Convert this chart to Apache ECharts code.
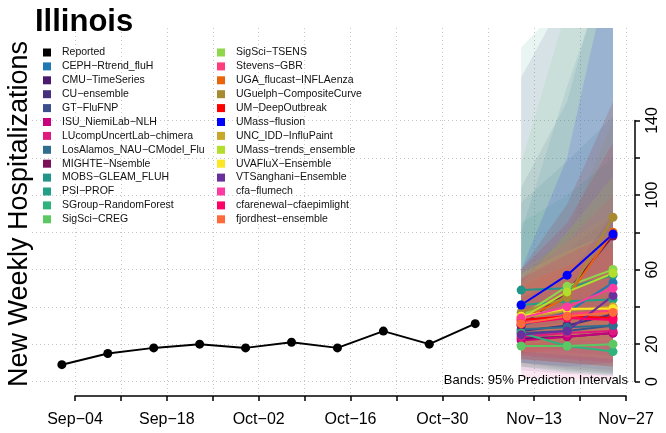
<!DOCTYPE html>
<html>
<head>
<meta charset="utf-8">
<script src="https://cdn.jsdelivr.net/npm/echarts@6/dist/echarts.min.js"></script>
<style>html,body{margin:0;padding:0;background:#fff}#c{width:666px;height:433px}</style>
</head>
<body>
<div id="c"></div>
<script>
// ---------------- data ----------------
const reportedDates = ['2023-09-02','2023-09-09','2023-09-16','2023-09-23','2023-09-30','2023-10-07','2023-10-14','2023-10-21','2023-10-28','2023-11-04'];
const reportedValues = [9, 15, 18, 20, 18, 21, 18, 27, 20, 31];
const forecastDates = ['2023-11-11','2023-11-18','2023-11-25'];

const models = [
  'CEPH\u2212Rtrend_fluH','CMU\u2212TimeSeries','CU\u2212ensemble','GT\u2212FluFNP','ISU_NiemiLab\u2212NLH',
  'LUcompUncertLab\u2212chimera','LosAlamos_NAU\u2212CModel_Flu','MIGHTE\u2212Nsemble','MOBS\u2212GLEAM_FLUH','PSI\u2212PROF',
  'SGroup\u2212RandomForest','SigSci\u2212CREG','SigSci\u2212TSENS','Stevens\u2212GBR','UGA_flucast\u2212INFLAenza',
  'UGuelph\u2212CompositeCurve','UM\u2212DeepOutbreak','UMass\u2212flusion','UNC_IDD\u2212InfluPaint','UMass\u2212trends_ensemble',
  'UVAFluX\u2212Ensemble','VTSanghani\u2212Ensemble','cfa\u2212flumech','cfarenewal\u2212cfaepimlight','fjordhest\u2212ensemble'
];
const modelColors = [
  '#1F78B4','#4B1A6E','#472F7D','#3B4F8C','#C8007D',
  '#E0197F','#2F6E8E','#7B1259','#21958A','#22A087',
  '#2EB37C','#5CC863','#8ED64A','#FF3D7A','#E8650A',
  '#A88A30','#FF0000','#0000FF','#C8A82A','#B4DE2C',
  '#FDE725','#6A2F9C','#FF3AA0','#FF0066','#FF6A3A'
];
const medians = [
  [30,37,53],[23,24,26],[27,30,36],[26,27,30],[22,24,26],
  [24,26,27],[28,29,30],[30,48,78],[49,50,57],[41,43,44],
  [26,19,16],[19,19,20],[35,51,60],[32,36,38],[33,45,80],
  [37,45,88],[33,35,34],[41,57,79],[34,38,40],[34,48,58],
  [35,39,39],[25,27,46],[34,40,50],[31,34,33],[31,35,37]
];
const lower95 = [
  [14,12,10],[10,7,5],[6,4,3],[10,8,6],[8,6,4],
  [2,1,1],[12,10,8],[15,18,25],[20,16,14],[8,5,3],
  [10,6,4],[8,5,4],[18,22,24],[14,12,10],[15,18,22],
  [20,20,30],[12,10,8],[28,32,38],[12,10,8],[20,22,22],
  [16,14,12],[10,8,10],[16,15,14],[12,10,8],[14,12,10]
];
const upper95 = [
  [80,158,230],[42,50,60],[163,208,250],[104,150,240],[50,62,75],
  [55,70,90],[96,118,142],[60,95,150],[85,100,120],[179,205,215],
  [50,45,45],[117,200,240],[55,80,100],[52,62,72],[60,95,150],
  [55,80,140],[60,85,128],[60,120,230],[60,75,90],[52,80,110],
  [58,70,80],[45,55,90],[55,75,100],[55,68,80],[52,62,72]
];
const xTickLabels = ['Sep\u221204','Sep\u221218','Oct\u221202','Oct\u221216','Oct\u221230','Nov\u221213','Nov\u221227'];
const yTickLabels = [0, 20, 60, 100, 140];

// ---------------- helpers ----------------
const FONT = 'Liberation Sans, Arial, Helvetica, sans-serif';
const BASE = Date.UTC(2023, 8, 4);
function dayOf(s) { const p = s.split('-').map(Number); return (Date.UTC(p[0], p[1]-1, p[2]) - BASE) / 86400000; }
const fx = forecastDates.map(dayOf);

const series = [];
series.push({
  type: 'custom', name: 'bands', xAxisIndex: 0, yAxisIndex: 0, clip: true, silent: true, z: 1,
  data: models.map((m, i) => [fx[0], lower95[i][0], i]),
  encode: { x: 0, y: 1 },
  renderItem: function (params, api) {
    const i = api.value(2);
    const pts = [];
    for (let h = 0; h < fx.length; h++) pts.push(api.coord([fx[h], upper95[i][h]]));
    for (let h = fx.length - 1; h >= 0; h--) pts.push(api.coord([fx[h], lower95[i][h]]));
    return { type: 'polygon', shape: { points: pts }, style: { fill: modelColors[i], opacity: 0.1 } };
  }
});
models.forEach((m, i) => {
  series.push({
    type: 'line', name: m, xAxisIndex: 0, yAxisIndex: 0, z: 3,
    data: fx.map((x, h) => [x, medians[i][h]]),
    symbol: 'circle', symbolSize: 9, showSymbol: true,
    itemStyle: { color: modelColors[i] }, lineStyle: { color: modelColors[i], width: 2 },
    emphasis: { disabled: true }
  });
});
series.push({
  type: 'line', name: 'Reported', xAxisIndex: 0, yAxisIndex: 0, z: 4,
  data: reportedDates.map((d, k) => [dayOf(d), reportedValues[k]]),
  symbol: 'circle', symbolSize: 9,
  itemStyle: { color: '#000' }, lineStyle: { color: '#000', width: 2 },
  emphasis: { disabled: true }
});

const legendCommon = {
  orient: 'vertical', icon: 'rect', itemWidth: 8, itemHeight: 8, itemGap: 2.9, padding: 0,
  selectedMode: false,
  textStyle: { fontFamily: FONT, fontSize: 10.5, color: '#111', lineHeight: 11, padding: [0, 0, 0, 6] }
};
const leftNames = ['Reported'].concat(models.slice(0, 12));
const rightNames = models.slice(12);

const gridLine = { show: true, lineStyle: { color: '#c8c8c8', type: [1, 3], width: 1 } };

const option = {
  animation: false,
  backgroundColor: '#fff',
  title: { text: 'Illinois', left: 30, top: 2, textStyle: { fontFamily: FONT, fontSize: 31, fontWeight: 'bold', color: '#000' } },
  legend: [
    Object.assign({ left: 43, top: 47, data: leftNames }, legendCommon),
    Object.assign({ left: 217, top: 47, data: rightNames }, legendCommon)
  ],
  grid: [
    { left: 32, right: 31, top: 28, bottom: 37 },
    { left: 75, right: 40, top: 28, bottom: 37 },
    { left: 32, right: 31, top: 120.5, bottom: 51.5 }
  ],
  xAxis: [
    { gridIndex: 0, type: 'value', min: -6.55, max: 85.35, show: false },
    { gridIndex: 1, type: 'value', min: 0, max: 84, interval: 7, z: 0,
      axisLine: { show: true, onZero: false, lineStyle: { color: '#000', width: 1.5 } },
      axisTick: { show: true, inside: false, length: 5, lineStyle: { color: '#000', width: 1.5 } },
      axisLabel: { show: true, interval: 0, margin: 16, fontFamily: FONT, fontSize: 16, color: '#000', hideOverlap: false,
        showMinLabel: true, showMaxLabel: true,
        formatter: v => (v % 14 === 0 ? (xTickLabels[v / 14] || '') : '') },
      splitLine: gridLine },
    { gridIndex: 2, type: 'value', min: 0, max: 1, show: false }
  ],
  yAxis: [
    { gridIndex: 0, type: 'value', min: -7.8, max: 189.5, show: false },
    { gridIndex: 1, type: 'value', min: 0, max: 1, show: false },
    { gridIndex: 2, type: 'value', min: 0, max: 140, interval: 20, position: 'right', z: 0,
      axisLine: { show: true, onZero: false, lineStyle: { color: '#000', width: 1.5 } },
      axisTick: { show: true, inside: false, length: 5, lineStyle: { color: '#000', width: 1.5 } },
      axisLabel: { show: true, rotate: 90, margin: 10, fontFamily: FONT, fontSize: 16, color: '#000', hideOverlap: false,
        showMinLabel: true, showMaxLabel: true,
        formatter: v => (yTickLabels.indexOf(v) >= 0 ? String(v) : '') },
      splitLine: gridLine }
  ],
  graphic: [
    { type: 'text', x: 20, y: 214, rotation: Math.PI / 2, z: 10,
      style: { text: 'New Weekly Hospitalizations', fontFamily: FONT, fontSize: 27, fill: '#000', align: 'center', verticalAlign: 'middle' } },
    { type: 'text', right: 38, top: 374, z: 10,
      style: { text: 'Bands: 95% Prediction Intervals', fontFamily: FONT, fontSize: 13, fill: '#000' } }
  ],
  series: series
};

const chart = echarts.init(document.getElementById('c'), null, { renderer: 'canvas' });
chart.setOption(option);
</script>
</body>
</html>
